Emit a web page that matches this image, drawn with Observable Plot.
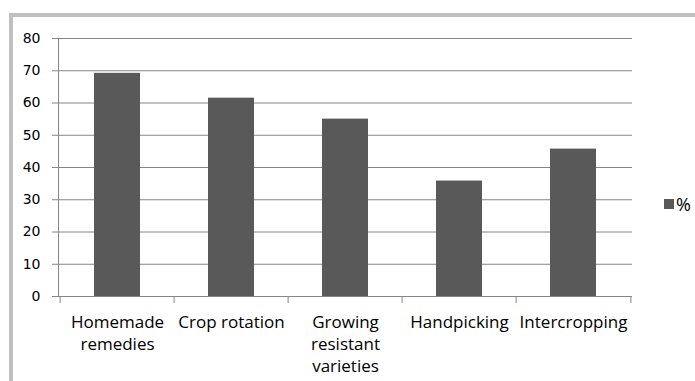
<!DOCTYPE html>
<html>
<head>
<meta charset="utf-8">
<script src="https://cdn.jsdelivr.net/npm/d3@7"></script>
<script src="https://cdn.jsdelivr.net/npm/@observablehq/plot@0.6"></script>
<style>
  body { margin: 0; background: #fff; }
  #chart { position: relative; width: 695px; height: 381px; overflow: hidden; background: #fff; }
  #chart svg { position: absolute; left: 0; top: 0; }
  .frame { position: absolute; left: 9px; top: 13px; right: -10px; bottom: -10px;
           border-top: 4px solid #c0c0c0; border-left: 4px solid #c0c0c0; pointer-events: none; }
  .legend { position: absolute; left: 664px; top: 191px; display: flex; align-items: center;
            font: 18px "Open Sans", sans-serif; color: #000; line-height: 26px; }
  .legend .sw { width: 10px; height: 10px; background: #595959; margin-right: 2px; }
</style>
</head>
<body>
<div id="chart"><div class="frame"></div></div>
<script>
// Pest-control practices and the share of respondents using each (%)
const practices = ["Homemade remedies", "Crop rotation", "Growing resistant varieties", "Handpicking", "Intercropping"];
const tickLabels = ["Homemade\nremedies", "Crop rotation", "Growing\nresistant\nvarieties", "Handpicking", "Intercropping"];
const percent = [69.2, 61.5, 55.0, 35.8, 45.7];
const yTicks = [0, 10, 20, 30, 40, 50, 60, 70, 80];
const seriesName = "%";

const data = practices.map((p, i) => ({practice: p, value: percent[i]}));
const labelOf = new Map(practices.map((p, i) => [p, tickLabels[i]]));

const W = 695, H = 381;
const margin = {top: 38, right: 63, bottom: 85, left: 58};
const xOpts = {type: "band", domain: practices, paddingInner: 0.6, paddingOuter: 0.3};

// category boundaries sit half a step away from each band centre
const xs = Plot.scale({x: {...xOpts, range: [margin.left, W - margin.right]}});
const step = xs.step;

const grey = "#868686";
const barFill = "#595959";

const plot = Plot.plot({
  width: W,
  height: H,
  marginTop: margin.top,
  marginRight: margin.right,
  marginBottom: margin.bottom,
  marginLeft: margin.left,
  style: {background: "transparent", color: "#000"},
  x: {...xOpts, label: null},
  y: {domain: [0, 80], label: null},
  marks: [
    Plot.gridY({ticks: yTicks, stroke: grey, strokeOpacity: 1}),
    Plot.frame({anchor: "left", stroke: grey}),
    Plot.axisY({ticks: yTicks, tickSize: 6, tickPadding: 12, stroke: grey, fill: "#000",
                fontSize: 14, fontFamily: "DejaVu Sans", label: null}),
    // boundary ticks below the category axis
    Plot.axisX({ticks: practices, tickSize: 7, tickFormat: () => "", stroke: grey, dx: -step / 2, label: null}),
    Plot.axisX({ticks: practices.slice(-1), tickSize: 7, tickFormat: () => "", stroke: grey, dx: step / 2, label: null}),
    // category labels
    Plot.axisX({ticks: practices, tickSize: 0, tickPadding: 16, tickFormat: d => labelOf.get(d),
                fontSize: 17, fontFamily: "Open Sans", lineHeight: 22 / 17, fill: "#000", label: null}),
    Plot.barY(data, {x: "practice", y: "value", fill: barFill})
  ]
});

const chart = document.getElementById("chart");
chart.insertBefore(plot, chart.firstChild);

const legend = document.createElement("div");
legend.className = "legend";
legend.innerHTML = `<span class="sw"></span><span></span>`;
legend.lastChild.textContent = seriesName;
chart.appendChild(legend);
</script>
</body>
</html>
